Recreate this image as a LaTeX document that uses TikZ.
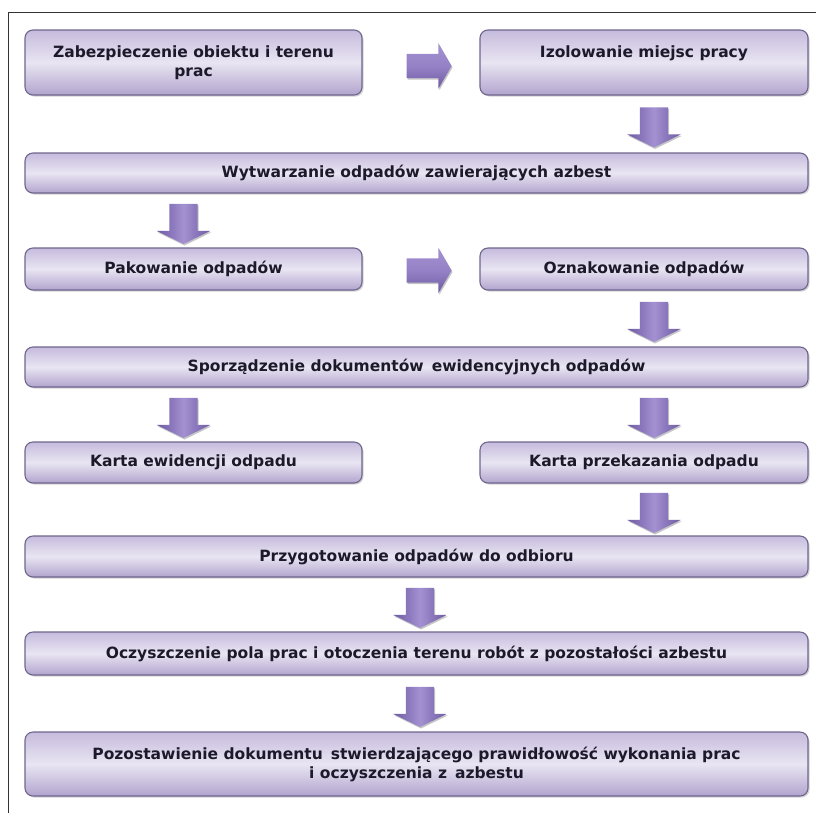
\documentclass[tikz,border=0pt]{standalone}
\usepackage{fontspec}
\setmainfont{DejaVu Sans}
\usetikzlibrary{shapes.arrows,shadows}
\definecolor{boxborder}{HTML}{6F668E}
\definecolor{boxtop}{HTML}{C6BBDD}
\definecolor{boxmid}{HTML}{E9E5F2}
\definecolor{boxbot}{HTML}{B2A4CE}
\definecolor{txt}{HTML}{1C1A2A}
\definecolor{arrl}{HTML}{A391D2}
\definecolor{arrm}{HTML}{9582C6}
\definecolor{arrd}{HTML}{6E5AA2}
\tikzset{
  stage/.style={draw=boxborder, line width=1.1pt, rounded corners=8pt,
    top color=boxtop, bottom color=boxbot, middle color=boxmid,
    drop shadow={shadow xshift=1.5pt, shadow yshift=-1.5pt, opacity=0.35},
    font=\bfseries\fontsize{15.5}{19}\selectfont, text=txt, align=center, inner sep=0pt},
  rarrow/.style={single arrow, draw=none, inner sep=12pt, minimum height=45pt,
    single arrow head extend=10.5pt, single arrow tip angle=120,
    top color=arrl, bottom color=arrd, middle color=arrm,
    drop shadow={shadow xshift=1pt, shadow yshift=-1.5pt, opacity=0.45}},
  darrow/.style={single arrow, draw=none, inner sep=14pt, minimum height=40pt,
    single arrow head extend=12.5pt, single arrow tip angle=128, shape border rotate=270,
    left color=arrd, right color=arrd, middle color=arrl,
    drop shadow={shadow xshift=1pt, shadow yshift=-1.5pt, opacity=0.45}},
}
\begin{document}
\begin{tikzpicture}[x=1pt,y=-1pt]
\useasboundingbox (0,0) rectangle (816,812);
\fill[white] (0,0) rectangle (816,812);
\draw[line width=1.2pt, black!80] (8.5,830) -- (8.5,12.5) -- (830,12.5);
% boxes
\node[stage, minimum width=337pt, minimum height=65pt] (b1) at (193.5,62.5) {Zabezpieczenie obiektu i terenu\\prac};
\node[stage, minimum width=328pt, minimum height=65pt] (b2) at (644,62.5) {Izolowanie miejsc pracy\\\phantom{prac}};
\node[stage, minimum width=783pt, minimum height=40pt] (b3) at (416.5,173) {Wytwarzanie odpadów zawierających azbest};
\node[stage, minimum width=337pt, minimum height=42pt] (b4) at (193.5,269) {Pakowanie odpadów};
\node[stage, minimum width=328pt, minimum height=42pt] (b5) at (644,269) {Oznakowanie odpadów};
\node[stage, minimum width=783pt, minimum height=40pt] (b6) at (416.5,367) {Sporządzenie dokumentów\, ewidencyjnych odpadów};
\node[stage, minimum width=337pt, minimum height=41pt] (b7) at (193.5,462.5) {Karta ewidencji odpadu};
\node[stage, minimum width=328pt, minimum height=41pt] (b8) at (644,462.5) {Karta przekazania odpadu};
\node[stage, minimum width=783pt, minimum height=41pt] (b9) at (416.5,556.5) {Przygotowanie odpadów do odbioru};
\node[stage, minimum width=783pt, minimum height=43pt] (b10) at (416.5,653.5) {Oczyszczenie pola prac i otoczenia terenu robót z pozostałości azbestu};
\node[stage, minimum width=783pt, minimum height=64pt] (b11) at (416.5,764) {Pozostawienie dokumentu\, stwierdzającego prawidłowość wykonania prac\\i oczyszczenia z\, azbestu};
% arrows
\node[rarrow] (a1) at (425.5,66) {};
\node[darrow] (a2) at (654,124) {};
\node[darrow] (a3) at (183.5,220.5) {};
\node[rarrow] (a4) at (425.5,270.5) {};
\node[darrow] (a5) at (654,318.5) {};
\node[darrow] (a6) at (183.5,414.5) {};
\node[darrow] (a7) at (654,414.5) {};
\node[darrow] (a8) at (654,509.5) {};
\node[darrow] (a9) at (420,604.5) {};
\node[darrow] (a10) at (420,703.5) {};
\end{tikzpicture}
\end{document}
